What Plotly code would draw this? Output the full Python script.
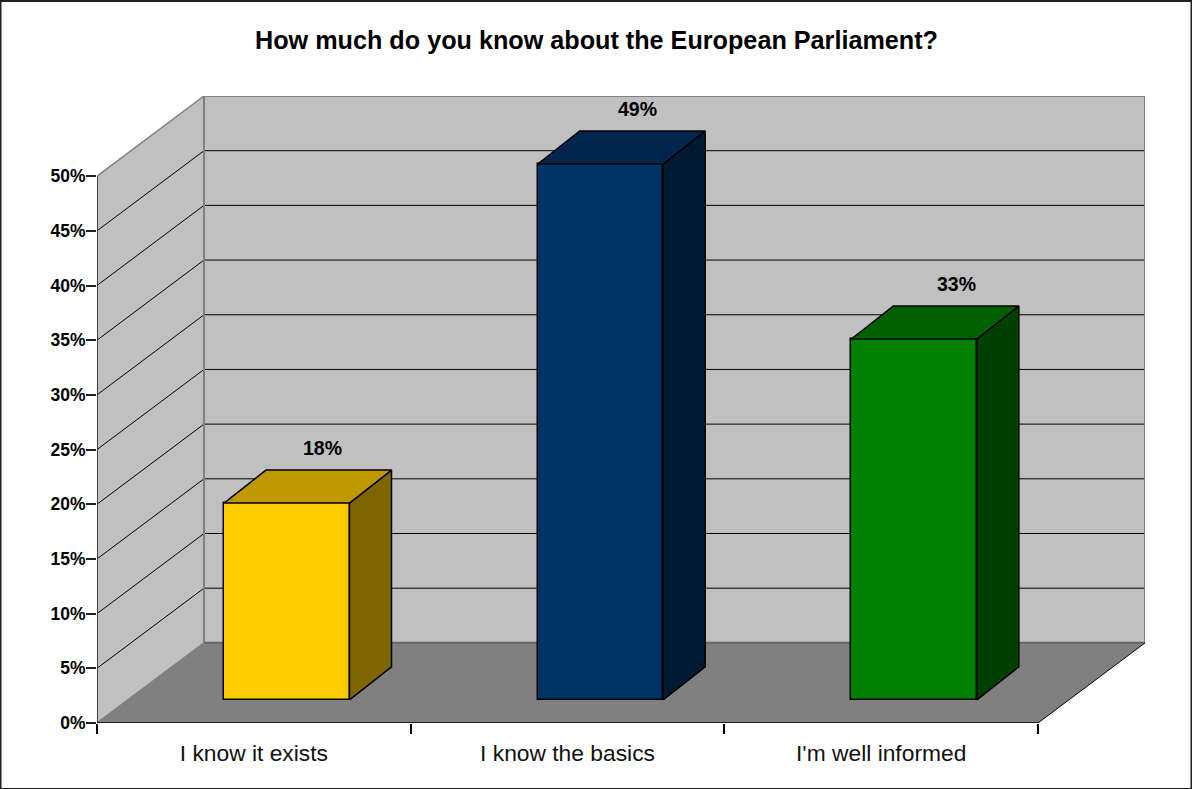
import plotly.graph_objects as go

# Survey results
title = "How much do you know about the European Parliament?"
categories = ["I know it exists", "I know the basics", "I'm well informed"]
values = [18, 49, 33]
value_labels = ["18%", "49%", "33%"]
y_ticks = [0, 5, 10, 15, 20, 25, 30, 35, 40, 45, 50]
y_tick_labels = [f"{v}%" for v in y_ticks]

# Colours of each box: front, top, side
front_colors = ["#FFCC00", "#003366", "#008000"]
top_colors = ["#C09900", "#002650", "#006000"]
side_colors = ["#806600", "#001A33", "#004000"]

WALL = "#C0C0C0"
FLOOR = "#808080"
EDGE = "#808080"
INK = "#000000"
FONT = "Liberation Sans, Arial, sans-serif"

# Frame of the pseudo-3D plot: pixel box and the oblique depth vector in data units
W, H = 1192, 789
L, R, T, B = 97, 47, 95.6, 66.4
N = len(categories)
DEPTH_X = 107 / 313.67
DEPTH_Y = 80 / 10.92
Y_MAX = y_ticks[-1]
BOX_W = 0.4
BOX_DX = 42 / 313.67
BOX_DY = 33 / 10.92
BOX_SHIFT_X = 0.105
BOX_BASE = 23 / 10.92
LABEL_LIFT = 5.03
label_nudge_px = [-2, -1, 5]


def poly(points):
    return "M " + " L ".join(f"{x} {y}" for x, y in points) + " Z"


def seg(x0, y0, x1, y1, color, width=1):
    return dict(type="line", x0=x0, y0=y0, x1=x1, y1=y1, layer="below",
                line=dict(color=color, width=width))


def area(points, color):
    return dict(type="path", path=poly(points), layer="below", fillcolor=color, line=dict(width=0))


shapes = [
    # Side wall, back wall and floor
    area([(0, 0), (DEPTH_X, DEPTH_Y), (DEPTH_X, Y_MAX + DEPTH_Y), (0, Y_MAX)], WALL),
    area([(DEPTH_X, DEPTH_Y), (N + DEPTH_X, DEPTH_Y), (N + DEPTH_X, Y_MAX + DEPTH_Y), (DEPTH_X, Y_MAX + DEPTH_Y)], WALL),
    area([(0, 0), (N, 0), (N + DEPTH_X, DEPTH_Y), (DEPTH_X, DEPTH_Y)], FLOOR),
]
# Gridlines run across the side wall and on along the back wall
for v in y_ticks[1:-1]:
    shapes.append(seg(0, v, DEPTH_X, v + DEPTH_Y, INK))
    shapes.append(seg(DEPTH_X, v + DEPTH_Y, N + DEPTH_X, v + DEPTH_Y, INK))
shapes += [
    seg(0, Y_MAX, DEPTH_X, Y_MAX + DEPTH_Y, EDGE, 1.5),
    seg(DEPTH_X, Y_MAX + DEPTH_Y, N + DEPTH_X, Y_MAX + DEPTH_Y, EDGE, 2),
    seg(DEPTH_X, DEPTH_Y, DEPTH_X, Y_MAX + DEPTH_Y, EDGE, 2),
    seg(N + DEPTH_X, DEPTH_Y, N + DEPTH_X, Y_MAX + DEPTH_Y, EDGE, 2),
    seg(DEPTH_X, DEPTH_Y, N + DEPTH_X, DEPTH_Y, "#666666", 2),
    seg(0, 0, DEPTH_X, DEPTH_Y, EDGE, 1.5),
    seg(0, 0, 0, Y_MAX, "#404040", 2),
    seg(0, 0, N, 0, INK, 1.5),
    seg(N, 0, N + DEPTH_X, DEPTH_Y, INK, 1),
]

plot_w = W - L - R
plot_h = H - T - B
# Outer chart frame, given in paper coordinates
shapes.append(dict(
    type="rect", xref="paper", yref="paper",
    x0=(0.5 - L) / plot_w, x1=(W - 0.5 - L) / plot_w,
    y0=-(B - 0.5) / plot_h, y1=1 + (T - 0.5) / plot_h,
    line=dict(color="#202020", width=2), layer="below",
))

centers = [i + 0.5 + BOX_SHIFT_X for i in range(N)]

fig = go.Figure()

# Front faces of the boxes
fig.add_trace(go.Bar(
    x=centers, y=values, base=BOX_BASE, width=BOX_W,
    marker=dict(color=front_colors, line=dict(color=INK, width=1.5)),
    showlegend=False, hoverinfo="skip",
))

# Top and side faces follow each box's value
for c, v, top_c, side_c in zip(centers, values, top_colors, side_colors):
    x0, x1 = c - BOX_W / 2, c + BOX_W / 2
    y0, y1 = BOX_BASE, BOX_BASE + v
    fig.add_trace(go.Scatter(
        x=[x1, x1 + BOX_DX, x1 + BOX_DX, x1, x1],
        y=[y0, y0 + BOX_DY, y1 + BOX_DY, y1, y0],
        mode="lines", fill="toself", fillcolor=side_c,
        line=dict(color=INK, width=1.5), showlegend=False, hoverinfo="skip",
    ))
    fig.add_trace(go.Scatter(
        x=[x0, x1, x1 + BOX_DX, x0 + BOX_DX, x0],
        y=[y1, y1, y1 + BOX_DY, y1 + BOX_DY, y1],
        mode="lines", fill="toself", fillcolor=top_c,
        line=dict(color=INK, width=1.5), showlegend=False, hoverinfo="skip",
    ))

# Value labels float above the rear edge of each box
annotations = [
    dict(x=c + 0.12, y=BOX_BASE + v + LABEL_LIFT, text=f"<b>{lab}</b>", showarrow=False,
         xshift=nudge, font=dict(family=FONT, size=19.5, color=INK), yanchor="middle")
    for c, v, lab, nudge in zip(centers, values, value_labels, label_nudge_px)
]

fig.update_layout(
    width=W, height=H, autosize=False,
    margin=dict(l=L, r=R, t=T, b=B, pad=0),
    paper_bgcolor="white", plot_bgcolor="white",
    showlegend=False, bargap=0,
    title=dict(
        text=f"<b>{title}</b>", x=596.5 / W, xref="container", xanchor="center",
        y=1 - 40 / H, yref="container", yanchor="middle",
        font=dict(family=FONT, size=25.2, color=INK),
    ),
    xaxis=dict(
        range=[0, N + DEPTH_X], showgrid=False, zeroline=False, showline=False,
        tickmode="array", tickvals=[i + 0.5 for i in range(N)], ticktext=categories,
        ticks="", ticklabelstandoff=14, tickfont=dict(family=FONT, size=22.8, color="#111111"),
        minor=dict(tickmode="array", tickvals=list(range(N + 1)), ticks="outside",
                   ticklen=10, tickcolor=INK, tickwidth=1.5, showgrid=False),
    ),
    yaxis=dict(
        range=[0, Y_MAX + DEPTH_Y], showgrid=False, zeroline=False, showline=False,
        tickmode="array", tickvals=y_ticks, ticktext=y_tick_labels,
        ticks="outside", ticklen=10, tickcolor="#202020", tickwidth=1.5,
        ticklabelstandoff=-3,
        tickfont=dict(family=FONT, size=17.5, color=INK, weight="bold"),
    ),
    shapes=shapes,
    annotations=annotations,
)

fig.write_html("out.html")
